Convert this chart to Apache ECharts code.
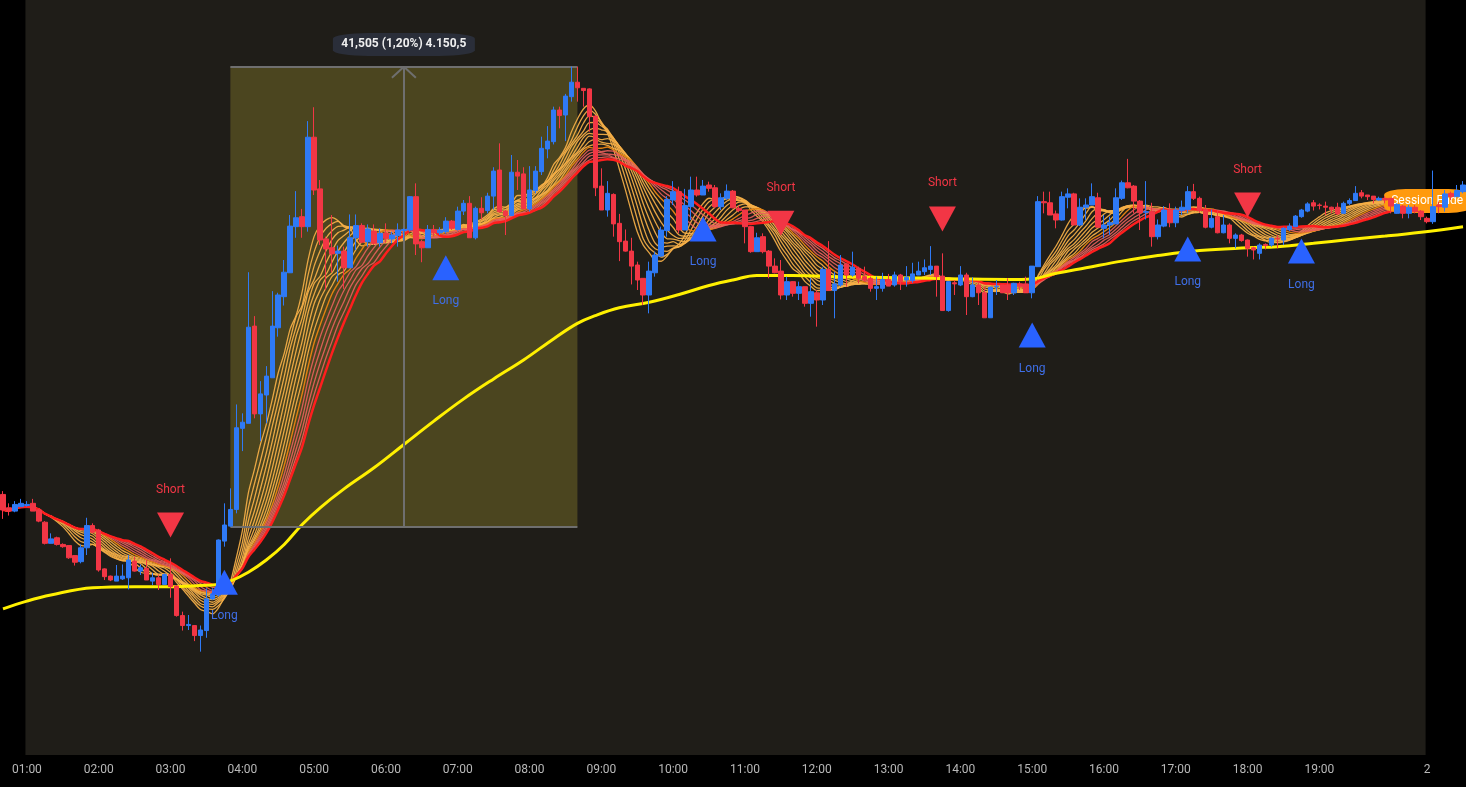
<!DOCTYPE html>
<html><head><meta charset="utf-8">
<script src="https://cdn.jsdelivr.net/npm/echarts@6/dist/echarts.min.js"></script>
<style>html,body{margin:0;padding:0;background:#000;}#c{width:1466px;height:787px;}</style>
</head><body><div id="c"></div>
<script>
// 5-minute candles: [open, close, low, high]
const candles = [
[3461.8,3460.4,3459.6,3462.1],[3460.6,3460.3,3459.9,3461.0],[3460.3,3460.9,3460.2,3461.2],[3460.7,3461.0,3460.7,3461.4],
[3460.8,3460.9,3460.7,3461.2],[3461.0,3460.3,3460.3,3461.4],[3460.4,3459.4,3459.3,3460.5],[3459.3,3457.4,3457.3,3459.4],
[3457.4,3457.8,3457.4,3458.3],[3457.9,3457.3,3457.2,3458.0],[3457.3,3457.1,3457.0,3457.4],[3457.2,3456.1,3456.0,3457.2],
[3456.3,3455.7,3455.4,3456.3],[3455.75,3457.0,3455.6,3457.3],[3457.0,3459.0,3456.35,3459.7],[3459.0,3458.4,3458.3,3459.2],
[3458.6,3455.0,3454.85,3458.7],[3455.1,3454.4,3454.1,3455.15],[3454.45,3454.1,3454.0,3454.5],[3454.0,3454.45,3454.0,3455.45],
[3454.2,3454.45,3454.1,3455.5],[3454.3,3455.9,3453.25,3456.35],[3455.8,3454.9,3454.85,3456.2],[3454.9,3455.2,3454.55,3455.5],
[3455.15,3454.1,3454.1,3455.9],[3454.0,3454.3,3453.65,3454.75],[3454.3,3453.7,3453.2,3454.6],[3453.7,3454.6,3453.7,3454.7],
[3454.6,3453.5,3452.5,3456.05],[3453.55,3450.9,3450.8,3453.65],[3450.9,3450.0,3449.55,3451.25],[3450.0,3450.1,3449.6,3450.95],
[3450.0,3449.1,3448.6,3450.05],[3449.1,3449.6,3447.65,3450.0],[3449.55,3452.4,3448.9,3453.35],[3452.4,3452.85,3452.3,3453.35],
[3452.75,3457.7,3452.6,3457.75],[3457.6,3459.05,3457.1,3461.0],[3458.95,3460.45,3458.9,3462.35],[3460.45,3467.8,3460.1,3469.9],
[3467.75,3468.3,3465.7,3469.1],[3468.2,3476.85,3468.2,3481.8],[3476.95,3469.05,3468.65,3477.85],[3469.05,3470.85,3466.6,3472.0],
[3470.75,3472.45,3468.2,3473.35],[3472.3,3476.95,3472.3,3480.1],[3476.8,3479.75,3476.0,3479.95],[3479.6,3481.8,3478.8,3482.9],
[3481.75,3485.95,3481.75,3486.95],[3485.9,3486.7,3484.9,3489.1],[3486.8,3485.9,3484.9,3487.5],[3485.9,3493.95,3485.45,3495.4],
[3493.95,3489.2,3488.75,3496.65],[3489.3,3484.7,3484.25,3490.1],[3484.8,3483.9,3480.2,3485.0],[3484.0,3483.45,3481.8,3486.95],
[3483.5,3483.7,3480.95,3484.2],[3483.7,3482.2,3480.3,3484.1],[3482.2,3484.9,3482.2,3487.0],[3484.9,3486.0,3483.8,3487.0],
[3486.0,3484.5,3484.4,3486.2],[3484.55,3485.7,3484.1,3486.1],[3485.5,3484.4,3484.25,3486.1],[3484.45,3485.3,3484.1,3485.75],
[3485.3,3484.85,3484.45,3486.2],[3484.8,3485.15,3484.4,3485.45],[3485.1,3485.6,3484.1,3486.2],[3485.55,3485.65,3484.7,3485.75],
[3485.6,3488.6,3485.45,3488.65],[3488.6,3484.35,3483.35,3489.8],[3484.55,3484.0,3482.7,3484.7],[3484.0,3485.65,3484.0,3486.05],
[3485.65,3485.35,3485.05,3486.05],[3485.35,3485.6,3485.15,3485.85],[3485.45,3486.4,3485.3,3486.75],[3486.4,3485.75,3485.6,3486.5],
[3485.65,3487.3,3485.55,3487.7],[3487.3,3488.0,3486.95,3488.3],[3488.0,3484.9,3484.9,3488.65],[3484.9,3487.55,3484.75,3487.7],
[3487.55,3487.15,3486.55,3488.55],[3487.35,3488.65,3487.1,3488.95],[3488.65,3490.9,3487.45,3491.25],[3491.0,3487.25,3487.15,3493.4],
[3487.3,3486.9,3485.15,3487.4],[3486.9,3490.8,3486.9,3492.35],[3490.8,3490.45,3489.2,3491.9],[3490.65,3487.5,3487.5,3491.25],
[3487.5,3489.2,3487.25,3491.35],[3489.15,3490.9,3488.9,3491.35],[3490.85,3492.95,3490.55,3494.0],[3492.9,3493.6,3492.05,3494.95],
[3493.55,3496.4,3493.3,3496.7],[3496.4,3495.9,3494.75,3496.7],[3495.95,3497.65,3493.6,3497.85],[3497.6,3498.9,3497.15,3500.3],
[3498.9,3498.4,3497.15,3500.3],[3498.35,3498.15,3496.7,3498.35],[3498.3,3495.8,3494.45,3498.35],[3495.85,3489.4,3488.65,3495.95],
[3489.55,3487.4,3487.4,3491.15],[3487.4,3488.9,3486.8,3490.0],[3488.8,3486.15,3485.0,3488.9],[3486.2,3484.55,3482.8,3487.05],
[3484.6,3483.7,3483.65,3485.65],[3483.7,3482.35,3480.7,3484.9],[3482.45,3481.1,3480.2,3482.75],[3481.25,3479.75,3478.85,3481.25],
[3479.75,3481.9,3478.1,3482.75],[3481.75,3483.35,3481.4,3483.65],[3483.25,3485.6,3483.2,3485.9],[3485.55,3488.35,3485.0,3488.65],
[3488.3,3489.05,3487.85,3490.0],[3489.05,3485.6,3485.3,3489.5],[3485.6,3487.8,3485.6,3489.3],[3487.7,3489.2,3486.5,3490.4],
[3489.2,3488.75,3488.6,3490.4],[3488.75,3489.55,3488.75,3490.1],[3489.65,3489.35,3489.05,3489.95],[3489.4,3487.7,3487.55,3489.65],
[3487.7,3488.5,3487.4,3488.9],[3488.45,3489.1,3488.3,3489.7],[3489.1,3487.6,3487.55,3489.2],[3487.55,3487.35,3487.2,3487.8],
[3487.4,3485.9,3484.4,3487.4],[3485.9,3483.65,3483.55,3485.95],[3483.65,3484.9,3483.65,3485.35],[3485.0,3483.65,3483.5,3485.3],
[3483.7,3482.35,3481.25,3483.8],[3482.35,3481.75,3481.7,3483.05],[3481.9,3479.75,3479.35,3482.9],[3479.75,3480.95,3479.3,3481.4],
[3480.95,3479.9,3479.6,3481.0],[3479.9,3480.5,3479.3,3480.95],[3480.5,3479.0,3478.7,3480.5],[3479.0,3480.05,3477.8,3481.25],
[3479.95,3479.3,3476.9,3480.2],[3479.3,3482.05,3478.85,3482.25],[3482.05,3480.15,3480.15,3484.6],[3480.15,3480.75,3477.65,3481.85],
[3480.65,3482.45,3480.5,3483.35],[3482.55,3481.55,3480.5,3482.6],[3481.55,3482.25,3481.4,3483.65],[3482.15,3481.25,3480.8,3482.3],
[3481.4,3481.1,3480.95,3482.3],[3481.25,3480.35,3480.05,3481.4],[3480.35,3480.5,3479.3,3481.4],[3480.35,3481.15,3480.05,3481.75],
[3481.15,3480.55,3480.55,3481.65],[3480.65,3481.55,3480.5,3481.85],[3481.55,3480.95,3480.2,3481.65],[3481.1,3481.35,3480.5,3482.35],
[3481.05,3481.65,3480.85,3482.65],[3481.55,3481.9,3481.55,3482.75],[3481.85,3482.2,3481.55,3482.95],[3482.05,3482.35,3481.55,3484.15],
[3482.35,3481.4,3479.6,3482.35],[3481.45,3478.35,3478.35,3483.5],[3478.35,3480.95,3478.25,3480.95],[3480.85,3480.75,3479.75,3481.05],
[3480.65,3481.55,3480.55,3482.35],[3481.55,3479.6,3477.95,3481.75],[3479.6,3480.65,3479.55,3481.35],[3480.65,3479.95,3478.85,3480.85],
[3479.95,3477.7,3477.7,3480.5],[3477.7,3480.45,3477.7,3480.5],[3480.5,3480.55,3479.75,3481.1],[3480.65,3479.95,3479.95,3480.65],
[3480.65,3479.95,3479.3,3481.25],[3479.95,3480.8,3479.75,3480.85],[3480.75,3480.55,3480.2,3480.95],[3480.75,3479.95,3479.95,3481.4],
[3479.95,3482.35,3479.45,3482.35],[3482.3,3488.15,3482.3,3488.65],[3488.15,3488.05,3487.1,3489.05],[3488.05,3486.95,3486.95,3489.05],
[3487.05,3486.5,3485.75,3487.35],[3486.5,3488.6,3486.45,3489.05],[3488.55,3488.85,3487.55,3489.35],[3488.85,3486.05,3486.05,3488.95],
[3486.05,3487.65,3485.95,3488.45],[3487.65,3487.85,3486.5,3488.45],[3487.85,3488.6,3487.85,3489.8],[3488.5,3485.85,3485.85,3488.95],
[3485.75,3486.05,3484.85,3486.95],[3486.05,3486.25,3485.15,3486.8],[3486.15,3488.5,3486.15,3489.35],[3488.45,3489.85,3488.3,3490.05],
[3489.85,3489.4,3489.35,3492.0],[3489.55,3488.2,3487.1,3489.65],[3488.2,3487.15,3485.6,3488.3],[3487.2,3487.25,3486.55,3490.0],
[3487.25,3485.0,3484.1,3488.05],[3485.0,3486.05,3484.75,3486.55],[3485.95,3487.4,3485.85,3487.75],[3487.4,3486.25,3485.85,3488.0],
[3486.25,3487.4,3485.85,3487.7],[3487.35,3487.65,3486.95,3488.25],[3487.45,3489.05,3487.1,3489.55],[3489.05,3488.45,3488.3,3489.75],
[3488.45,3487.35,3487.15,3488.6],[3487.45,3485.85,3485.75,3487.85],[3485.85,3486.65,3485.75,3487.45],[3486.8,3485.35,3485.3,3487.4],
[3485.35,3486.05,3485.3,3486.95],[3486.05,3484.85,3484.4,3486.2],[3484.85,3485.15,3483.95,3485.3],[3485.15,3484.65,3484.55,3485.25],
[3484.7,3483.95,3483.2,3484.75],[3484.0,3483.8,3482.95,3484.1],[3483.5,3484.25,3482.95,3484.4],[3484.3,3484.2,3483.85,3484.4],
[3484.25,3484.85,3484.1,3484.95],[3484.85,3484.8,3483.95,3485.15],[3484.7,3485.75,3484.25,3485.85],[3485.65,3485.95,3485.5,3486.2],
[3485.9,3486.85,3485.85,3486.95],[3486.8,3487.4,3486.7,3487.5],[3487.3,3487.95,3487.2,3488.1],[3488.05,3487.75,3487.35,3488.3],
[3487.85,3487.8,3487.45,3488.0],[3487.75,3487.65,3486.95,3488.15],[3487.65,3487.45,3487.1,3487.7],[3487.65,3487.05,3486.95,3488.05],
[3487.1,3488.0,3487.05,3488.15],[3488.0,3488.25,3487.85,3488.45],[3488.25,3488.9,3488.25,3489.55],[3488.95,3488.65,3488.45,3489.2],
[3488.75,3488.6,3488.3,3488.75],[3488.65,3488.35,3488.0,3488.65],[3488.3,3488.45,3488.25,3488.6],[3488.45,3488.3,3488.0,3488.65],
[3488.45,3487.75,3487.1,3488.45],[3487.1,3487.9,3487.05,3488.0],[3487.75,3487.1,3486.65,3487.85],[3487.1,3487.65,3486.65,3487.85],
[3487.65,3487.25,3487.1,3487.85],[3487.3,3486.8,3486.5,3487.4],[3486.65,3486.35,3486.2,3486.8],[3486.35,3487.7,3486.15,3490.95],
[3487.85,3487.7,3487.1,3488.15],[3487.65,3488.85,3487.25,3489.2],[3488.9,3488.6,3488.3,3489.05],[3488.6,3489.15,3488.6,3489.65],
[3489.05,3489.65,3488.9,3490.0]
];

// long-period moving average (yellow), read at sampled bars: [bar index, value]
const yellowMA = [
[0,3451.5],[4,3452.2],[8,3452.75],[15,3453.4],[22,3453.5],[28,3453.5],[33,3453.6],[36,3453.7],[38,3454.0],
[41,3454.8],[44,3455.9],[47,3457.3],[50,3459.1],[53,3460.6],[57,3462.3],[62,3464.2],[67,3466.3],[72,3468.4],
[77,3470.4],[82,3472.2],[87,3473.9],[92,3475.8],[96,3477.2],[99,3477.9],[103,3478.6],[108,3479.1],[113,3479.8],
[118,3480.6],[122,3481.1],[126,3481.5],[132,3481.5],[140,3481.4],[150,3481.3],[160,3481.2],[168,3481.15],
[172,3481.2],[176,3481.7],[181,3482.2],[187,3482.8],[193,3483.3],[200,3483.75],[208,3484.0],[213,3484.1],
[219,3484.4],[225,3484.75],[231,3485.05],[237,3485.4],[244,3485.9]
];

const shortSignals = [[28,3459.05],[130,3486.2],[157,3486.6],[208,3487.85]];
const longSignals  = [[37,3453.9],[74,3482.2],[117,3485.7],[172,3476.15],[198,3483.9],[217,3483.7]];

// moving-average ribbon lengths (simple MAs of close)
const fastPeriods = [8,9,10,11,12,13,14,15,16];
const midPeriod = 17;
const slowPeriods = [18,19,20,21];
const slowestPeriod = 22;

// measurement tool: from bar 38 to bar 96, price range
const measureFrom = 38, measureTo = 96, measureMid = 67;
const measureLow = 3458.9, measureHigh = 3500.3;
const measureText = '41,505 (1,20%) 4.150,5';

// session (01:00 - 20:30) in bar units, session end label
const sessionStartBar = 3.75, sessionEndBar = 237.75;
const sessionLabel = ['Session Ende', 238, 3488.2];

// time categories (5 min bars from 00:40, next day from bar 238)
const firstDay2Bar = 238;
const lastHourLabel = 19;
const categories = [];
for (let i = 0; i < candles.length; i++) {
  let m, d;
  if (i < firstDay2Bar) { m = 40 + 5 * i; d = 1; } else { m = 70 + 5 * (i - firstDay2Bar); d = 2; }
  const hh = String(Math.floor(m / 60)).padStart(2, '0'), mm = String(m % 60).padStart(2, '0');
  categories.push((d === 2 ? '2 ' : '') + hh + ':' + mm);
}

const closes = candles.map(c => c[1]);
function sma(src, p) {
  const out = []; let sum = 0;
  for (let i = 0; i < src.length; i++) {
    sum += src[i]; if (i >= p) sum -= src[i - p];
    out.push(+(sum / Math.min(i + 1, p)).toFixed(3));
  }
  return out;
}
function lineSeries(p, color, width, z) {
  return { type: 'line', name: 'MA' + p, xAxisIndex: 0, yAxisIndex: 0, data: sma(closes, p),
    symbol: 'none', silent: true, z: z, smooth: 0.3, lineStyle: { width: width, color: color } };
}
const ribbonSeries = [
  ...fastPeriods.map(p => lineSeries(p, 'rgba(246,176,72,0.92)', 1.3, 2)),
  lineSeries(midPeriod, 'rgba(226,128,18,1)', 1.4, 2),
  ...slowPeriods.map(p => lineSeries(p, 'rgba(232,96,92,0.9)', 1.3, 2)),
  lineSeries(slowestPeriod, '#ff1e1e', 2.5, 3)
];

const chart = echarts.init(document.getElementById('c'));
const option = {
  backgroundColor: '#000000',
  animation: false,
  grid: { left: -1.5, width: 1470, top: 0, height: 755 },
  xAxis: [
    { type: 'category', data: categories, boundaryGap: true,
      axisLine: { show: false }, axisTick: { show: false }, splitLine: { show: false },
      axisLabel: {
        color: '#b8b8b8', fontSize: 12, fontFamily: 'Roboto, sans-serif', margin: 9,
        interval: (idx, val) => (idx === firstDay2Bar) ||
          (idx < firstDay2Bar && /:00$/.test(val) && +val.slice(0, 2) >= 1 && +val.slice(0, 2) <= lastHourLabel),
        formatter: (val, idx) => idx === firstDay2Bar ? '2' : val
      } },
    { type: 'value', min: -0.5, max: candles.length - 0.5, show: false }
  ],
  yAxis: { type: 'value', min: 3438.35, max: 3506.3, show: false, splitLine: { show: false } },
  series: [
    { type: 'line', name: 'bg', xAxisIndex: 1, data: [[0, 3470]], symbol: 'none', silent: true, z: 0,
      lineStyle: { opacity: 0 },
      markArea: { silent: true, data: [
        [{ xAxis: sessionStartBar, itemStyle: { color: '#1f1d18' } }, { xAxis: sessionEndBar }],
        [{ coord: [measureFrom, measureLow], itemStyle: { color: 'rgba(255,232,60,0.20)' } }, { coord: [measureTo, measureHigh] }]
      ] },
      markLine: { silent: true, symbol: ['none', 'none'], label: { show: false },
        lineStyle: { color: '#6f6f6f', width: 2, type: 'solid' },
        data: [
          [{ coord: [measureFrom, measureHigh] }, { coord: [measureTo, measureHigh] }],
          [{ coord: [measureFrom, measureLow] }, { coord: [measureTo, measureLow] }],
          [{ coord: [measureMid, measureLow] }, { coord: [measureMid, measureHigh] }],
          [{ coord: [measureMid - 2, measureHigh - 1] }, { coord: [measureMid, measureHigh] }],
          [{ coord: [measureMid + 2, measureHigh - 1] }, { coord: [measureMid, measureHigh] }]
        ] }
    },
    ...ribbonSeries,
    { type: 'line', name: 'MA', xAxisIndex: 1, data: yellowMA, smooth: 0.4, symbol: 'none', silent: true, z: 3,
      lineStyle: { width: 3, color: '#fff000' } },
    { type: 'scatter', name: 'session', xAxisIndex: 1, z: 4, silent: true,
      data: [[sessionLabel[1], sessionLabel[2]]], symbol: 'roundRect', symbolSize: [86, 24],
      itemStyle: { color: '#ff9a0e', opacity: 1 },
      label: { show: true, position: 'inside', formatter: sessionLabel[0], color: '#ffffff', fontSize: 12, fontFamily: 'Roboto, sans-serif' } },
    { type: 'candlestick', name: 'price', xAxisIndex: 0, data: candles, z: 5, barWidth: 5,
      itemStyle: { color: '#2f7af5', color0: '#f23645', borderColor: '#2f7af5', borderColor0: '#f23645', borderWidth: 1 } },
    { type: 'scatter', name: 'short', xAxisIndex: 1, z: 6, silent: true, data: shortSignals,
      symbol: 'triangle', symbolRotate: 180, symbolSize: [27, 25], itemStyle: { color: '#f23645', opacity: 1 },
      label: { show: true, position: 'top', distance: 17, formatter: 'Short', color: '#f23645', fontSize: 12, fontFamily: 'Roboto, sans-serif' } },
    { type: 'scatter', name: 'long', xAxisIndex: 1, z: 6, silent: true, data: longSignals,
      symbol: 'triangle', symbolSize: [27, 25], itemStyle: { color: '#2962ff', opacity: 1 },
      label: { show: true, position: 'bottom', distance: 15, formatter: 'Long', color: '#3f6fe8', fontSize: 12, fontFamily: 'Roboto, sans-serif' } },
    { type: 'scatter', name: 'measure', xAxisIndex: 1, z: 7, silent: true,
      data: [[measureMid, measureHigh + 2.0]], symbol: 'roundRect', symbolSize: [142, 23],
      itemStyle: { color: '#2a2e39', opacity: 1 },
      label: { show: true, position: 'inside', formatter: measureText, color: '#eeeeee', fontSize: 12, fontWeight: 'bold', fontFamily: 'Roboto, sans-serif' } }
  ]
};
chart.setOption(option);
</script></body></html>
